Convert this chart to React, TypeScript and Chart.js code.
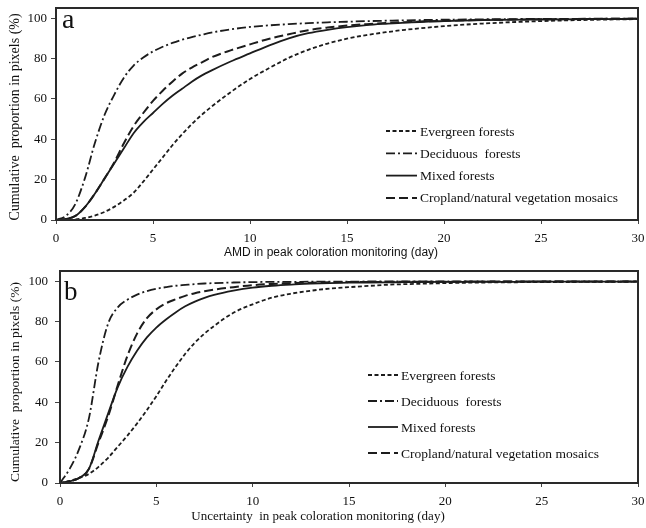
import React, { useEffect, useRef } from "react";
import { Chart, registerables } from "chart.js";

Chart.register(...registerables);

// ---- data ----
const X_GRID = [0, 0.5, 1, 1.5, 2, 2.5, 3, 3.5, 4, 4.5, 5, 5.5, 6, 6.5, 7, 7.5, 8, 9, 10, 11, 12, 13, 14, 15, 16, 17, 18, 20, 22, 25, 28, 30];

const SERIES_LABELS = ["Evergreen forests", "Deciduous  forests", "Mixed forests", "Cropland/natural vegetation mosaics"];

// Panel a: AMD
const A_EVERGREEN = [0, 0.1, 0.3, 1, 2.2, 4, 6.5, 9.7, 13.5, 19, 25, 31, 37, 42.5, 47.5, 52, 56, 63.3, 69.8, 75.3, 80.3, 84.3, 87.4, 89.8, 91.6, 93, 94.2, 96, 97.3, 98.5, 99.2, 99.5];
const A_DECIDUOUS = [0, 2, 8, 21, 38, 52, 62, 70.5, 76.5, 80.5, 83.5, 85.8, 87.7, 89.3, 90.6, 91.7, 92.8, 94.4, 95.6, 96.4, 97, 97.5, 97.9, 98.2, 98.5, 98.7, 98.9, 99.2, 99.4, 99.6, 99.7, 99.8];
const A_MIXED = [0, 0.5, 2, 6.5, 13, 20.5, 28, 35.5, 43, 48.5, 53, 57.5, 61.5, 65, 68.5, 71.5, 74, 78.5, 82.5, 86.5, 90, 92.5, 94.2, 95.5, 96.5, 97.2, 97.8, 98.5, 99, 99.3, 99.5, 99.6];
const A_CROPLAND = [0, 0.5, 2, 6.5, 13, 20.5, 28.5, 38, 46.5, 53, 59, 64, 68.5, 72.5, 75.5, 78, 80.5, 84, 87, 89.8, 92, 94, 95.3, 96.3, 97, 97.6, 98, 98.7, 99.1, 99.4, 99.6, 99.7];

// Panel b: Uncertainty
const B_EVERGREEN = [0, 1, 2.5, 4.5, 8, 12.5, 18, 23.5, 29.5, 36, 43, 50.5, 57.5, 64, 69.5, 74, 77.8, 84.3, 88.5, 91.8, 93.8, 95.2, 96.3, 97, 97.6, 98.2, 98.5, 99, 99.3, 99.5, 99.6, 99.7];
const B_DECIDUOUS = [0, 7, 17, 32, 60, 79, 87, 90.8, 93.3, 95, 96.2, 97, 97.7, 98.1, 98.5, 98.8, 99, 99.3, 99.5, 99.6, 99.6, 99.7, 99.7, 99.7, 99.8, 99.8, 99.8, 99.8, 99.8, 99.8, 99.8, 99.8];
const B_MIXED = [0, 0.8, 2.5, 7, 21, 34.5, 47.5, 57.5, 65.5, 72, 77, 81, 84.5, 87.5, 89.8, 91.7, 93.2, 95.3, 96.8, 97.7, 98.3, 98.7, 99, 99.2, 99.3, 99.4, 99.5, 99.6, 99.6, 99.7, 99.7, 99.7];
const B_CROPLAND = [0, 0.8, 2.5, 7, 20, 33, 48.5, 63, 74, 81.5, 86, 89, 91, 92.7, 94, 95, 95.8, 97, 98, 98.6, 99, 99.2, 99.4, 99.5, 99.6, 99.6, 99.7, 99.7, 99.8, 99.8, 99.8, 99.8];

const X_MIN = 0;
const X_MAX = 30;
const X_STEP = 5;
const Y_MIN = 0;
const Y_MAX = 105;
const Y_STEP = 20;
const Y_LAST_TICK = 100;

const A_X_TITLE = "AMD in peak coloration monitoring (day)";
const B_X_TITLE = "Uncertainty  in peak coloration monitoring (day)";
const Y_TITLE = "Cumulative  proportion in pixels (%)";

// ---- styles ----
const SERIF = "'Liberation Serif', 'Times New Roman', serif";
const SANS = "'Liberation Sans', Arial, sans-serif";
const INK = "#1c1c1c";
const LINE_STYLES = [
  { dash: [4, 2.5], width: 1.8 },
  { dash: [9, 3, 2, 3], width: 1.8 },
  { dash: [], width: 1.8 },
  { dash: [9, 4], width: 2 },
];

const panelDecor = {
  id: "panelDecor",
  afterDraw(chart: any, _args: any, opts: any) {
    const { ctx, chartArea: a } = chart;
    ctx.save();
    // frame
    ctx.strokeStyle = "#2a2a2a";
    ctx.lineWidth = 2;
    ctx.setLineDash([]);
    ctx.strokeRect(a.left, a.top, a.right - a.left, a.bottom - a.top);
    // panel letter
    ctx.fillStyle = "#111";
    ctx.font = `${opts.letterSize}px ${SERIF}`;
    ctx.textBaseline = "alphabetic";
    ctx.textAlign = "left";
    ctx.fillText(opts.letter, a.left + opts.letterDx, a.top + opts.letterDy);
    // axis titles
    ctx.textAlign = "center";
    ctx.textBaseline = "middle";
    ctx.font = opts.xTitleFont;
    ctx.fillText(opts.xTitle, opts.xTitleX, opts.xTitleY);
    ctx.save();
    ctx.translate(opts.yTitleX, opts.yTitleY);
    ctx.rotate(-Math.PI / 2);
    ctx.font = opts.yTitleFont;
    ctx.fillText(Y_TITLE, 0, 0);
    ctx.restore();
    // legend
    ctx.textAlign = "left";
    ctx.font = `13.5px ${SERIF}`;
    ctx.textBaseline = "middle";
    chart.data.datasets.forEach((ds: any, i: number) => {
      const y = opts.legendY + i * opts.legendGap;
      const x0 = opts.legendX;
      ctx.strokeStyle = INK;
      ctx.lineWidth = ds.borderWidth;
      ctx.setLineDash(ds.borderDash || []);
      ctx.beginPath();
      ctx.moveTo(x0, y);
      ctx.lineTo(x0 + opts.lineLen, y);
      ctx.stroke();
      ctx.setLineDash([]);
      ctx.fillStyle = "#111";
      ctx.fillText(ds.label, x0 + opts.lineLen + 3, y + 1);
    });
    ctx.restore();
  },
};

function buildConfig(series: number[][], p: any) {
  return {
    type: "line",
    data: {
      datasets: series.map((vals, i) => ({
        label: SERIES_LABELS[i],
        data: X_GRID.map((x, j) => ({ x, y: vals[j] })),
        borderColor: INK,
        borderWidth: LINE_STYLES[i].width,
        borderDash: LINE_STYLES[i].dash,
        pointRadius: 0,
        fill: false,
        cubicInterpolationMode: "monotone",
      })),
    },
    options: {
      responsive: false,
      animation: false,
      devicePixelRatio: 1,
      layout: { padding: { top: p.padTop, right: 8, left: 0, bottom: 0 } },
      plugins: {
        legend: { display: false },
        tooltip: { enabled: false },
        panelDecor: p.decor,
      },
      scales: {
        x: {
          type: "linear",
          min: X_MIN,
          max: X_MAX,
          border: { display: false },
          grid: { drawOnChartArea: false, drawTicks: true, tickLength: 4, color: "#444" },
          ticks: { stepSize: X_STEP, padding: p.xTickPad, color: "#111", font: { family: SERIF, size: 13 }, maxRotation: 0 },
          title: { display: false },
          afterFit: (s: any) => { s.height = p.xHeight; s.paddingLeft = 0; s.paddingRight = 0; },
        },
        y: {
          min: Y_MIN,
          max: Y_MAX,
          border: { display: false },
          grid: { drawOnChartArea: false, drawTicks: true, tickLength: 5, color: "#444" },
          ticks: { stepSize: Y_STEP, includeBounds: false, padding: p.yTickPad, color: "#111", font: { family: SERIF, size: 13 } },
          afterBuildTicks: (s: any) => { s.ticks = s.ticks.filter((t: any) => t.value <= Y_LAST_TICK); },
          title: { display: false },
          afterFit: (s: any) => { s.width = p.yWidth; s.paddingTop = 0; s.paddingBottom = 0; },
        },
      },
    },
    plugins: [panelDecor],
  } as any;
}

export default function App() {
  const refA = useRef<HTMLCanvasElement>(null);
  const refB = useRef<HTMLCanvasElement>(null);

  useEffect(() => {
    const a = new Chart(refA.current as HTMLCanvasElement, buildConfig(
      [A_EVERGREEN, A_DECIDUOUS, A_MIXED, A_CROPLAND],
      {
        padTop: 8, xHeight: 42, yWidth: 56, xTickPad: 7, yTickPad: 4,
        decor: {
          letter: "a", letterSize: 28, letterDx: 6, letterDy: 20,
          legendX: 386, legendY: 131, legendGap: 22.3, lineLen: 31,
          xTitle: A_X_TITLE, xTitleFont: `12px ${SANS}`, xTitleX: 331, xTitleY: 253,
          yTitleFont: `14px ${SERIF}`, yTitleX: 15, yTitleY: 117,
        },
      }
    ));
    const b = new Chart(refB.current as HTMLCanvasElement, buildConfig(
      [B_EVERGREEN, B_DECIDUOUS, B_MIXED, B_CROPLAND],
      {
        padTop: 9, xHeight: 45, yWidth: 60, xTickPad: 7, yTickPad: 7,
        decor: {
          letter: "b", letterSize: 27, letterDx: 4, letterDy: 29,
          legendX: 368, legendY: 113, legendGap: 26, lineLen: 30,
          xTitle: B_X_TITLE, xTitleFont: `13px ${SERIF}`, xTitleX: 318, xTitleY: 255,
          yTitleFont: `13.5px ${SERIF}`, yTitleX: 15, yTitleY: 120,
        },
      }
    ));
    return () => { a.destroy(); b.destroy(); };
  }, []);

  return (
    <div style={{ position: "absolute", left: 0, top: 0, width: 646, height: 528, background: "#fff" }}>
      <canvas ref={refA} width={646} height={262} style={{ position: "absolute", left: 0, top: 0, width: 646, height: 262 }} />
      <canvas ref={refB} width={646} height={266} style={{ position: "absolute", left: 0, top: 262, width: 646, height: 266 }} />
    </div>
  );
}
